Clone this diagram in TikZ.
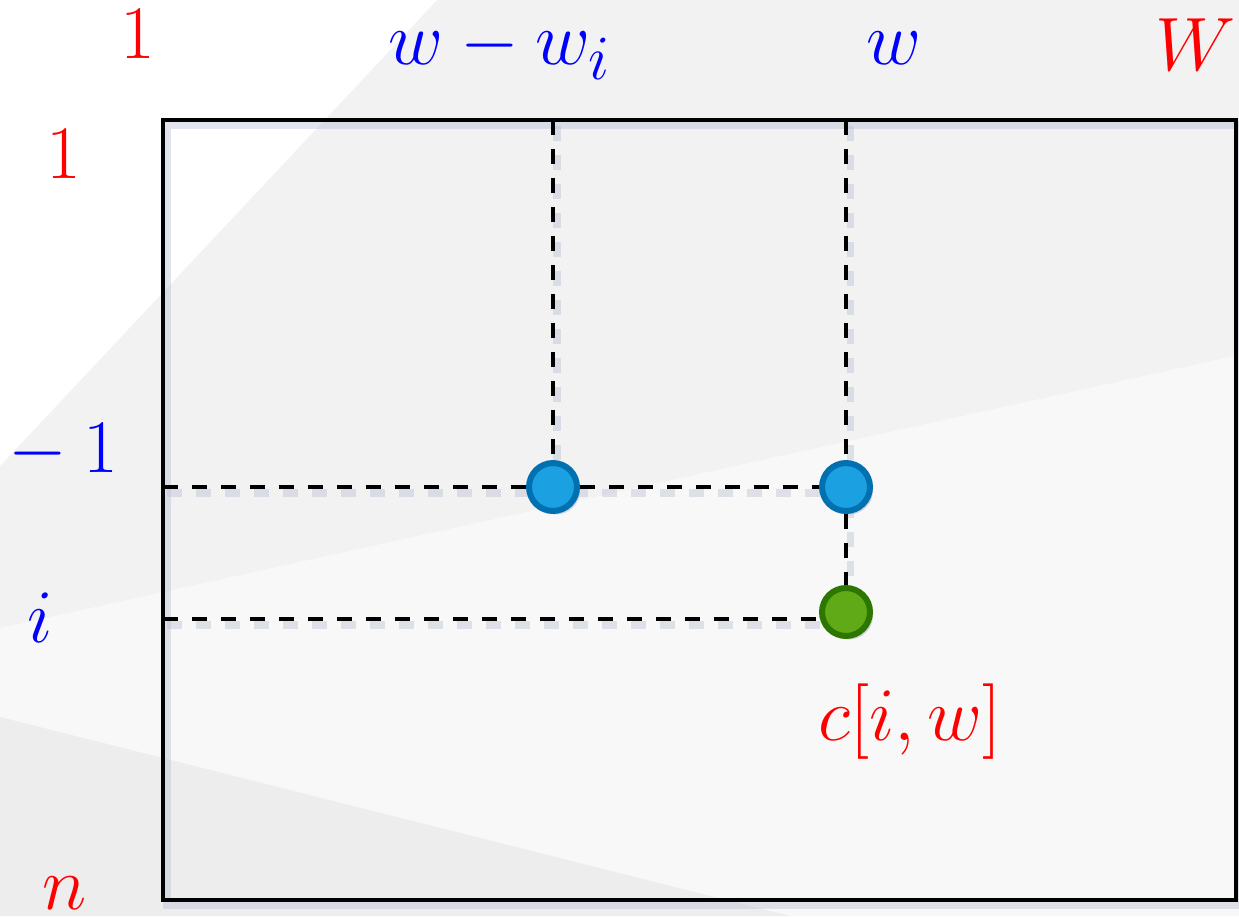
\documentclass[tikz,border=0pt]{standalone}
\usetikzlibrary{shadows}
\definecolor{bgbase}{HTML}{F2F2F2}
\definecolor{bglight}{HTML}{F8F8F8}
\definecolor{bgdark}{HTML}{EDEDED}
\definecolor{shadowc}{HTML}{B8BCD2}
\definecolor{bluefill}{HTML}{1BA1E2}
\definecolor{blueedge}{HTML}{0070B0}
\definecolor{greenfill}{HTML}{60A917}
\definecolor{greenedge}{HTML}{2D7600}
\tikzset{
  lbl/.style={font=\Huge, scale=1.73, inner sep=0pt, anchor=base},
  redlbl/.style={lbl, text=red},
  bluelbl/.style={lbl, text=blue},
  frame/.style={line width=2.8pt},
  dashln/.style={line width=2.4pt, dash pattern=on 8.5pt off 8pt},
  shadowln/.style={line width=4pt, shadowc, opacity=0.4},
  dotbase/.style={circle, minimum size=0.96cm, inner sep=0pt, line width=3.4pt,
     drop shadow={shadow xshift=0.06cm, shadow yshift=-0.07cm, fill=shadowc, opacity=0.6}},
  bluedot/.style={dotbase, fill=bluefill, draw=blueedge},
  greendot/.style={dotbase, fill=greenfill, draw=greenedge}
}
\begin{document}
\begin{tikzpicture}[x=0.02cm, y=-0.02cm]
% background
\fill[bgbase] (0,0) rectangle (1239,916);
\fill[white] (0,0) -- (437,0) -- (0,466) -- cycle;
\fill[bglight] (0,628) -- (1239,355) -- (1239,916) -- (0,916) -- cycle;
\fill[bgdark] (0,717) -- (790,916) -- (0,916) -- cycle;
\useasboundingbox (0,0) rectangle (1239,916);

% named coordinates
\coordinate (TL) at (163,120);
\coordinate (BR) at (1236,900);
\coordinate (T1) at (553,120);
\coordinate (T2) at (846,120);
\coordinate (L1) at (163,487);
\coordinate (L2) at (163,619);

% shadows of lines
\draw[shadowln, line width=4.5pt] ([shift={(4,5)}]TL) rectangle ([shift={(4,5)}]BR);
\begin{scope}[shift={(4,6)}]
\draw[shadowln, dash pattern=on 8.5pt off 8pt] (553,120) -- (553,487);
\draw[shadowln, dash pattern=on 8.5pt off 8pt] (846,120) -- (846,612);
\draw[shadowln, dash pattern=on 8.5pt off 8pt] (163,487) -- (846,487);
\draw[shadowln, dash pattern=on 8.5pt off 8pt] (163,619) -- (846,619);
\end{scope}

% frame
\draw[frame] (TL) rectangle (BR);

% dots
\node[bluedot] (a) at (553,487) {};
\node[bluedot] (b) at (846,487) {};
\node[greendot] (c) at (846,612) {};

% dashed connectors
\draw[dashln] (T1) -- (a.north);
\draw[dashln] (T2) -- (b.north);
\draw[dashln] (b.south) -- (c.north);
\draw[dashln] (L1) -- (a.west);
\draw[dashln] (a.east) -- (b.west);
\draw[dashln] (L2) -- (L2 -| c.west);

% labels
\node[redlbl] (r1) at (138,58) {$1$};
\node[bluelbl] (wwi) at (500,64) {$w-w_i$};
\node[bluelbl] (w) at (894,64) {$w$};
\node[redlbl] (W) at (1196,70) {$W$};
\node[redlbl] (c1) at (64,178) {$1$};
\node[bluelbl] (im1) at (55,472) {${}-1$};
\node[bluelbl] (i) at (40,642) {$i$};
\node[redlbl] (n) at (65,909) {$n$};
\node[redlbl] (ciw) at (910,740) {$c[i,w]$};
\end{tikzpicture}
\end{document}
